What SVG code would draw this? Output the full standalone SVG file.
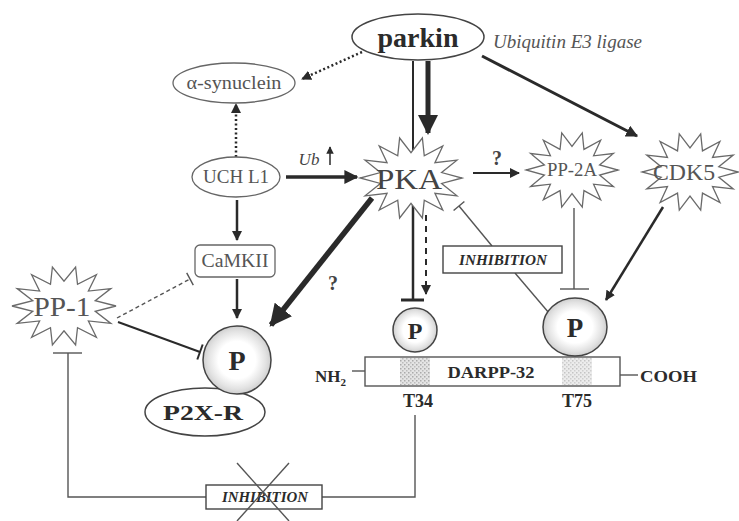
<svg xmlns="http://www.w3.org/2000/svg" width="739" height="521" viewBox="0 0 739 521">
<style>
text{font-family:"Liberation Serif","Times New Roman",serif;fill:#2b2b2b;text-anchor:middle}
.b{font-weight:bold}
.it{font-style:italic}
.node{fill:#fff;stroke:#444;stroke-width:1.5}
.lite{fill:#fff;stroke:#666;stroke-width:1.3}
.star{fill:#fff;stroke:#6a6a6a;stroke-width:1.3;vector-effect:non-scaling-stroke}
.c{fill:none;stroke:#2a2a2a;stroke-linecap:butt}
.g{fill:none;stroke:#555;stroke-width:1.4}
</style>
<defs>
<marker id="ah" viewBox="0 0 10 10" refX="9" refY="5" markerWidth="4" markerHeight="4" orient="auto" markerUnits="strokeWidth">
<path d="M0,0 L10,5 L0,10 z" fill="#2a2a2a"/>
</marker>
<marker id="ahs" viewBox="0 0 10 10" refX="9" refY="5" markerWidth="5" markerHeight="5" orient="auto" markerUnits="strokeWidth">
<path d="M0,0 L10,5 L0,10 z" fill="#2a2a2a"/>
</marker>
<radialGradient id="stip" cx="0.5" cy="0.5" r="0.5">
<stop offset="0.55" stop-color="#ffffff"/>
<stop offset="0.85" stop-color="#e2e2e2"/>
<stop offset="1" stop-color="#cfcfcf"/>
</radialGradient>
<pattern id="dots" width="4" height="4" patternUnits="userSpaceOnUse">
<rect width="4" height="4" fill="#e4e4e4"/>
<rect x="0" y="0" width="1.5" height="1.5" fill="#aaa"/>
<rect x="2" y="2" width="1.5" height="1.5" fill="#bbb"/>
</pattern>
</defs>

<g id="connectors">
<line class="c" x1="362" y1="52" x2="302" y2="79" stroke-width="2.5" stroke-dasharray="2,2.5" marker-end="url(#ah)"/>
<line class="c" x1="413" y1="61" x2="413" y2="158" stroke-width="2"/>
<line class="c" x1="428" y1="61" x2="428" y2="133" stroke-width="5" marker-end="url(#ah)"/>
<line class="c" x1="482" y1="56" x2="637" y2="136" stroke-width="3" marker-end="url(#ah)"/>
<line class="c" x1="236" y1="157" x2="236" y2="104" stroke-width="2.5" stroke-dasharray="2,2.5" marker-end="url(#ah)"/>
<line class="c" x1="286" y1="177" x2="357" y2="177" stroke-width="3.5" marker-end="url(#ah)"/>
<line class="c" x1="330" y1="165" x2="330" y2="147" stroke-width="1.5" marker-end="url(#ahs)"/>
<line class="c" x1="473" y1="173" x2="519" y2="173" stroke-width="2" marker-end="url(#ahs)"/>
<line class="g" x1="574" y1="208" x2="574" y2="289"/>
<line class="g" x1="560" y1="289" x2="589" y2="289" stroke-width="2"/>
<line class="c" x1="663" y1="207" x2="606" y2="300" stroke-width="2.5" marker-end="url(#ah)"/>
<line class="g" x1="492" y1="246" x2="459" y2="206"/>
<line class="g" x1="453.6" y1="210.5" x2="464.4" y2="201.5" stroke-width="1.8"/>
<line class="g" x1="515" y1="273" x2="549" y2="313"/>
<line class="c" x1="413" y1="205" x2="413" y2="300" stroke-width="2.5"/>
<line class="c" x1="401" y1="300" x2="424" y2="300" stroke-width="3"/>
<line class="c" x1="426" y1="215" x2="426" y2="294" stroke-width="2" stroke-dasharray="6,5" marker-end="url(#ahs)"/>
<line class="c" x1="372" y1="198" x2="271" y2="325" stroke-width="5.5" marker-end="url(#ah)"/>
<line class="c" x1="237" y1="200" x2="237" y2="240" stroke-width="2.5" marker-end="url(#ah)"/>
<line class="c" x1="237" y1="279" x2="237" y2="318" stroke-width="2.5" marker-end="url(#ah)"/>
<line class="g" x1="117" y1="318" x2="190" y2="279" stroke-dasharray="4,3" stroke="#777"/>
<line class="g" x1="186.7" y1="272.8" x2="193.3" y2="285.2" stroke="#777"/>
<line class="c" x1="118" y1="322" x2="200" y2="352" stroke-width="2" stroke="#444"/>
<line class="c" x1="202.7" y1="344.5" x2="197.3" y2="359.5" stroke-width="2" stroke="#444"/>
<polyline class="g" points="415,415 415,497 322,497"/>
<polyline class="g" points="206,497 68,497 68,353"/>
<line class="g" x1="53" y1="353" x2="82" y2="353" stroke-width="2"/>
</g>

<g id="parkin">
<ellipse class="node" cx="418" cy="37" rx="66" ry="23" stroke-width="2"/>
<text class="b" x="418" y="47" font-size="28">parkin</text>
<text class="it" x="493" y="48" font-size="18" textLength="149" lengthAdjust="spacingAndGlyphs" style="text-anchor:start;fill:#555">Ubiquitin E3 ligase</text>
</g>
<g id="alpha-synuclein">
<ellipse class="lite" cx="234" cy="83" rx="61" ry="20"/>
<text x="234" y="89" font-size="18" textLength="95" lengthAdjust="spacingAndGlyphs" style="fill:#555">α-synuclein</text>
</g>
<g id="uchl1">
<ellipse class="lite" cx="236" cy="177" rx="44" ry="20"/>
<text x="236" y="183" font-size="18" textLength="66" lengthAdjust="spacingAndGlyphs" style="fill:#555">UCH L1</text>
<text class="it" x="309" y="165" font-size="17" style="fill:#444">Ub</text>
</g>
<g id="camkii">
<rect class="lite" x="195" y="245" width="80" height="32" rx="5"/>
<text x="235" y="267" font-size="18" textLength="67" lengthAdjust="spacingAndGlyphs" style="fill:#555">CaMKII</text>
</g>
<g id="pka">
<path class="star" transform="translate(411,178) scale(51,41)" d="M1,0 L0.6,0.134 L0.901,0.434 L0.469,0.374 L0.623,0.782 L0.26,0.541 L0.223,0.975 L0,0.62 L-0.223,0.975 L-0.26,0.541 L-0.623,0.782 L-0.469,0.374 L-0.901,0.434 L-0.6,0.134 L-1,0 L-0.6,-0.134 L-0.901,-0.434 L-0.469,-0.374 L-0.623,-0.782 L-0.26,-0.541 L-0.223,-0.975 L0,-0.62 L0.223,-0.975 L0.26,-0.541 L0.623,-0.782 L0.469,-0.374 L0.901,-0.434 L0.6,-0.134 Z"/>
<text x="409" y="189" font-size="30" textLength="66" lengthAdjust="spacingAndGlyphs" style="fill:#444">PKA</text>
<text class="b" x="497" y="165" font-size="20" style="fill:#444">?</text>
<text class="b" x="333" y="290" font-size="20" style="fill:#444">?</text>
</g>
<g id="pp2a">
<path class="star" transform="translate(572,170) scale(46,38)" d="M1,0 L0.6,0.134 L0.901,0.434 L0.469,0.374 L0.623,0.782 L0.26,0.541 L0.223,0.975 L0,0.62 L-0.223,0.975 L-0.26,0.541 L-0.623,0.782 L-0.469,0.374 L-0.901,0.434 L-0.6,0.134 L-1,0 L-0.6,-0.134 L-0.901,-0.434 L-0.469,-0.374 L-0.623,-0.782 L-0.26,-0.541 L-0.223,-0.975 L0,-0.62 L0.223,-0.975 L0.26,-0.541 L0.623,-0.782 L0.469,-0.374 L0.901,-0.434 L0.6,-0.134 Z"/>
<text x="572" y="176" font-size="18" textLength="50" lengthAdjust="spacingAndGlyphs" style="fill:#555">PP-2A</text>
</g>
<g id="cdk5">
<path class="star" transform="translate(690,172) scale(48,39)" d="M1,0 L0.6,0.134 L0.901,0.434 L0.469,0.374 L0.623,0.782 L0.26,0.541 L0.223,0.975 L0,0.62 L-0.223,0.975 L-0.26,0.541 L-0.623,0.782 L-0.469,0.374 L-0.901,0.434 L-0.6,0.134 L-1,0 L-0.6,-0.134 L-0.901,-0.434 L-0.469,-0.374 L-0.623,-0.782 L-0.26,-0.541 L-0.223,-0.975 L0,-0.62 L0.223,-0.975 L0.26,-0.541 L0.623,-0.782 L0.469,-0.374 L0.901,-0.434 L0.6,-0.134 Z"/>
<text x="684" y="180" font-size="23" textLength="62" lengthAdjust="spacingAndGlyphs" style="fill:#555">CDK5</text>
</g>
<g id="pp1">
<path class="star" transform="translate(64,306) scale(52,40)" d="M1,0 L0.6,0.134 L0.901,0.434 L0.469,0.374 L0.623,0.782 L0.26,0.541 L0.223,0.975 L0,0.62 L-0.223,0.975 L-0.26,0.541 L-0.623,0.782 L-0.469,0.374 L-0.901,0.434 L-0.6,0.134 L-1,0 L-0.6,-0.134 L-0.901,-0.434 L-0.469,-0.374 L-0.623,-0.782 L-0.26,-0.541 L-0.223,-0.975 L0,-0.62 L0.223,-0.975 L0.26,-0.541 L0.623,-0.782 L0.469,-0.374 L0.901,-0.434 L0.6,-0.134 Z"/>
<text x="62" y="316" font-size="28" textLength="57" lengthAdjust="spacingAndGlyphs" style="fill:#555">PP-1</text>
</g>
<g id="p2x-r">
<ellipse class="node" cx="205" cy="412" rx="60" ry="24"/>
<text class="b" x="203" y="420" font-size="22" textLength="80" lengthAdjust="spacingAndGlyphs">P2X-R</text>
</g>
<g id="p-p2x">
<circle cx="237" cy="360" r="34" fill="url(#stip)" stroke="#444" stroke-width="1.5"/>
<text class="b" x="237" y="370" font-size="28">P</text>
</g>
<g id="darpp32">
<line class="g" x1="352" y1="371" x2="365" y2="371"/>
<line class="g" x1="620" y1="375" x2="638" y2="375"/>
<rect x="365" y="357" width="255" height="29" fill="#fff" stroke="#555" stroke-width="1.4"/>
<rect x="400" y="358" width="30" height="27" fill="url(#dots)"/>
<rect x="562" y="358" width="30" height="27" fill="url(#dots)" opacity="0.7"/>
<text class="b" x="491" y="378" font-size="17" textLength="87" lengthAdjust="spacingAndGlyphs">DARPP-32</text>
<text class="b" x="315" y="382" font-size="17" style="text-anchor:start">NH<tspan font-size="11" dy="4">2</tspan></text>
<text class="b" x="640" y="382" font-size="17" style="text-anchor:start" textLength="57" lengthAdjust="spacingAndGlyphs">COOH</text>
<text class="b" x="418" y="407" font-size="18">T34</text>
<text class="b" x="577" y="407" font-size="18">T75</text>
</g>
<g id="p-t34">
<circle cx="415" cy="330" r="22" fill="url(#stip)" stroke="#444" stroke-width="1.5"/>
<text class="b" x="415" y="339" font-size="24">P</text>
</g>
<g id="p-t75">
<ellipse cx="575" cy="327" rx="32" ry="29" fill="url(#stip)" stroke="#444" stroke-width="1.5"/>
<text class="b" x="575" y="337" font-size="27">P</text>
</g>
<g id="inhibition-top">
<rect x="443" y="246" width="119" height="27" fill="#fff" stroke="#444" stroke-width="1.4"/>
<text class="b it" x="503" y="265" font-size="15" textLength="88" lengthAdjust="spacingAndGlyphs">INHIBITION</text>
</g>
<g id="inhibition-bottom">
<rect x="206" y="485" width="116" height="24" fill="#fff" stroke="#444" stroke-width="1.4"/>
<text class="b it" x="265" y="502" font-size="15" textLength="86" lengthAdjust="spacingAndGlyphs">INHIBITION</text>
<line class="g" x1="237" y1="463" x2="289" y2="521"/>
<line class="g" x1="289" y1="463" x2="237" y2="521"/>
</g>
</svg>
